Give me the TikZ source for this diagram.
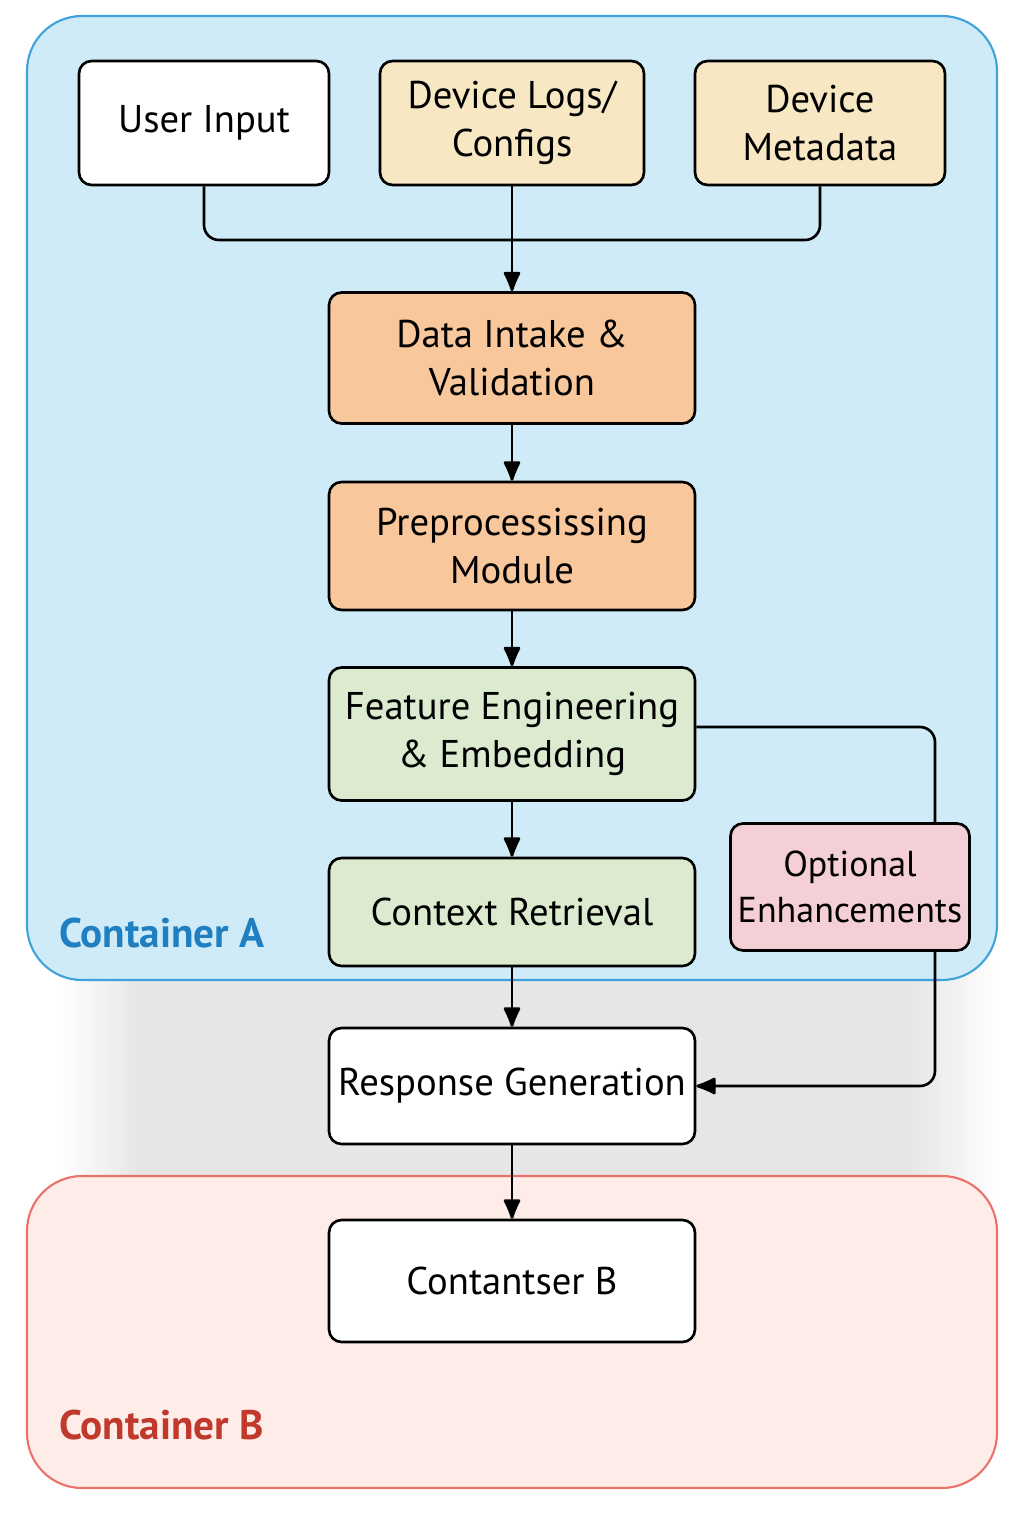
\documentclass[tikz,border=0pt]{standalone}
\usepackage{fontspec}
\setmainfont{PT Sans}
\usetikzlibrary{arrows.meta, positioning}
\tikzset{>={Latex[round, length=4.6mm, width=3.8mm]}}

\definecolor{contAfill}{HTML}{CFEBF8}
\definecolor{contAline}{HTML}{3FA2DB}
\definecolor{contAtext}{HTML}{1F7FC0}
\definecolor{contBfill}{HTML}{FDECE8}
\definecolor{contBline}{HTML}{E9736A}
\definecolor{contBtext}{HTML}{C0392B}
\definecolor{srcfill}{HTML}{F8E7C3}
\definecolor{prepfill}{HTML}{F8C79B}
\definecolor{featfill}{HTML}{DCEBD0}
\definecolor{optfill}{HTML}{F4CFD5}
\definecolor{shadowgray}{HTML}{E6E6E6}

\begin{document}
\begin{tikzpicture}[x=0.02cm, y=-0.02cm, line width=1.5pt,
  every node/.style={font=\fontsize{22}{27}\selectfont, align=center},
  box/.style={draw, line width=1.5pt, rounded corners=0.25cm, minimum width=7.32cm},
  smallbox/.style={box, minimum width=5cm, minimum height=2.48cm},
  grouplabel/.style={anchor=west, font=\fontsize{23.5}{28}\selectfont\bfseries}]

\useasboundingbox (0,0) rectangle (1024,1536);

% --- Soft shadow between the two containers ---
\shade[left color=white, right color=shadowgray] (60,960) rectangle (140,1195);
\fill[shadowgray] (140,960) rectangle (910,1195);
\shade[left color=shadowgray, right color=white] (910,960) rectangle (1000,1195);

% --- Containers ---
\draw[contAline, fill=contAfill, line width=1.2pt, rounded corners=1.1cm] (27,16) rectangle (997,980);
\draw[contBline, fill=contBfill, line width=1.2pt, rounded corners=1.1cm] (27,1176) rectangle (997,1488);

\node[grouplabel, text=contAtext] (labA) at (52,933) {Container A};
\node[grouplabel, text=contBtext] (labB) at (52,1425) {Container B};

% --- Sources ---
\node[smallbox, fill=white] (user) at (204,123) {User Input};
\node[smallbox, fill=srcfill, minimum width=5.28cm] (logs) at (512,123) {Device Logs/\\Configs};
\node[smallbox, fill=srcfill] (meta) at (820,123) {Device\\Metadata};

% --- Pipeline ---
\node[box, fill=prepfill, minimum height=2.62cm] (intake) at (512,358) {Data Intake \&\\Validation};
\node[box, fill=prepfill, minimum height=2.56cm] (prep) at (512,546) {Preprocessissing\\Module};
\node[box, fill=featfill, minimum height=2.66cm] (feat) at (512,734) {Feature Engineering\\\& Embedding};
\node[box, fill=featfill, minimum height=2.16cm] (ctx) at (512,912) {Context Retrieval};
\node[box, fill=optfill, minimum width=4.78cm, minimum height=2.54cm, inner sep=1pt,
      font=\fontsize{20.5}{26}\selectfont] (opt) at (850,887) {Optional\\Enhancements};
\node[box, fill=white, minimum height=2.32cm] (resp) at (512,1086) {Response Generation};
\node[box, fill=white, minimum height=2.44cm] (outB) at (512,1281) {Contantser B};

% --- Connectors ---
\coordinate (merge) at (512,240);
\draw[rounded corners=0.3cm] (user.south) |- (merge) -| (meta.south);
\draw[->] (logs) -- (intake);
\draw[->] (intake) -- (prep);
\draw[->] (prep) -- (feat);
\draw[->] (feat) -- (ctx);
\draw[->] (ctx) -- (resp);
\draw[->] (resp) -- (outB);
\draw[rounded corners=0.3cm] ([yshift=0.14cm]feat.east) -| ([xshift=1.7cm]opt.north);
\draw[->, rounded corners=0.3cm] ([xshift=1.7cm]opt.south) |- (resp.east);

\end{tikzpicture}
\end{document}
